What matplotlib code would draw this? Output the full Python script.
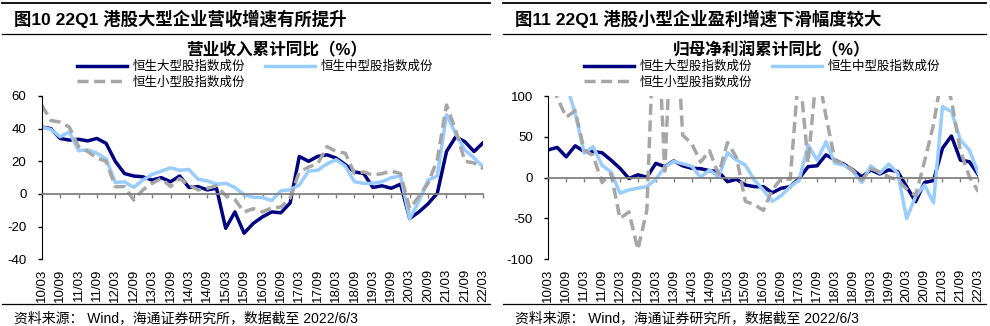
import matplotlib
matplotlib.use("Agg")
import matplotlib.pyplot as plt
from matplotlib.lines import Line2D

plt.rcParams['font.family'] = ['Liberation Sans', 'Noto Sans CJK SC']
plt.rcParams['axes.unicode_minus'] = False

# ---------------- data ----------------
quarters = [f"{y:02d}/{m:02d}" for y in range(10, 23) for m in (3, 6, 9, 12)][:49]
tick_labels = quarters[::2]

series_names = ["恒生大型股指数成份", "恒生中型股指数成份", "恒生小型股指数成份"]

# 营业收入累计同比 (%)
rev_large = [41, 40, 34, 33, 33.5, 32.5, 34, 31, 20, 12.5, 11, 10.5, 8.5, 10, 7.5, 11,
             4, 4.5, 2.5, 3.5, -21, -11, -24, -18, -14, -11, -11.5, -5.5, 23, 20, 23, 24,
             22, 18, 13.5, 12.5, 4, 5, 3.5, 6, -15, -11, -6, 0.5, 26, 35, 32, 26, 31.5]
rev_mid = [41, 39.5, 35, 38, 26.5, 27, 25, 21.5, 7, 7.5, 4, 8.5, 12, 14, 16, 14.5,
           15, 9, 8, 6, 6.5, 4, -0.5, -2, -2.2, -4, 2, 2.5, 5.5, 14, 14.5, 18.5,
           21, 17, 7.5, 6.5, 6.5, 7.5, 10, 11, -15, -4.5, 8.5, 11, 48.5, 37, 27, 22, 16.5]
rev_small = [54.5, 45, 44, 41, 29, 26, 22, 20, 4.5, 4.5, -3.7, 2.5, 6.5, 9.5, 4.5, 9.5,
             5.5, 2.5, 3.5, 5, -1, -3.5, -11, -9, -11, -8.5, -8, -2.5, 13.5, 16.5, 18.5, 29,
             26, 25, 12.5, 13.5, 11.5, 12.5, 14, 12.5, -9, -1.5, 6.5, 21, 54.5, 39, 20, 19, 15.5]

# 归母净利润累计同比 (%)
np_large = [34, 37, 25.5, 39, 32, 32, 30.5, 21.5, 11.5, -1, 3.5, 0.5, 17.5, 13.5, 20.5, 14.5,
            11.5, 11, 8.5, 7.5, -5, -2, -9, -11, -11, -18.5, -13, -11, -1, 13.5, 14.5, 28,
            21.5, 16.5, 9.5, 1, 9.5, 4.5, 9.5, 7.5, -11, -29.5, -6, -3.5, 36, 51, 21.5, 19.5, 3.5]
np_mid = [160, 140, 115, 79, 30, 38, 15, 7, -19, -15, -13, -11, -2, 13, 20, 17,
          14, 0.5, 9.5, 1, 30.5, 21.5, 15.5, -3, -15, -29, -22, -11, -3, 40, 21.5, 44,
          17.5, 15.5, 7.5, -6, 14.5, 5.5, 16.5, 5.5, -50, -23, -9, -31, 87, 81, 46, 34, 5.5]
np_small = [130, 98, 74, 82, 34, 27, -6, 5, -50, -42, -88, -40, 250, 8, 250, 52,
            42, 19, 33, 4, 43, 25, -29, -33, -40, -15, -1, -2, 135, 18, 135, 75,
            21, 17, 9, -3, 11, 7, 1, -3, -14, -22, 20, 65, 130, 95, 33, 1, -17]

# ---------------- layout ----------------
W, H = 990, 326
fig = plt.figure(figsize=(W / 100, H / 100), dpi=100)


def fx(px):
    return px / W


def fy(py):
    return 1 - py / H


def hline(x0, x1, y, lw):
    fig.add_artist(Line2D([fx(x0), fx(x1)], [fy(y), fy(y)], transform=fig.transFigure,
                          color="black", lw=lw))


colors = ["#000080", "#99CCFF", "#A6A6A6"]


def draw_panel(x0, x1, left, right, title, subtitle, sub_x, values, ylim, yticks):
    hline(x0, x1, 2.5, 1.3)
    hline(x0, x1, 34, 0.9)
    hline(x0, x1, 304, 0.9)
    fig.text(fx(x0 + 12), fy(19), title, fontsize=12.5, fontweight="bold",
             ha="left", va="center")
    fig.text(fx(sub_x), fy(50), subtitle, fontsize=12, fontweight="bold",
             ha="center", va="center")
    fig.text(fx(x0 + 12), fy(318), "资料来源： Wind，海通证券研究所，数据截至 2022/6/3",
             fontsize=10, ha="left", va="center")

    ax = fig.add_axes([fx(left), fy(259.3), fx(right) - fx(left), fy(96) - fy(259.3)])
    x = list(range(len(quarters)))
    lines = []
    for vals, c, name in zip(values, colors, series_names):
        if c == "#A6A6A6":
            ln, = ax.plot(x, vals, color=c, lw=2.5, ls=(0, (3.2, 1.6)),
                          dash_capstyle="butt", label=name)
        else:
            ln, = ax.plot(x, vals, color=c, lw=2.5, solid_joinstyle="round", label=name)
        lines.append(ln)

    ax.set_xlim(0, len(quarters) - 1)
    ax.set_ylim(*ylim)
    ax.set_yticks(yticks)
    ax.tick_params(axis="y", direction="out", length=3, width=1, labelsize=9.5, pad=8)

    for s in ["top", "right"]:
        ax.spines[s].set_visible(False)
    ax.spines["left"].set_color("black")
    ax.spines["bottom"].set_position(("data", 0))
    ax.spines["bottom"].set_color("#808080")
    ax.spines["bottom"].set_linewidth(1.3)
    ax.set_xticks(x[::2])
    ax.tick_params(axis="x", direction="out", length=3, width=1, color="#808080",
                   labelbottom=False)

    sec = ax.secondary_xaxis("bottom")
    sec.set_xticks(x[::2], tick_labels, rotation=90, fontsize=9.5)
    sec.tick_params(length=0, pad=7)
    sec.spines["bottom"].set_visible(False)

    order = [lines[0], lines[2], lines[1]]
    fig.legend(order, [l.get_label() for l in order], loc="upper left",
               bbox_to_anchor=(fx(left + 35.5), fy(61)), ncol=2, frameon=False,
               fontsize=9, handlelength=4, handletextpad=0.45, columnspacing=1.6,
               labelspacing=0.25, borderpad=0, borderaxespad=0)
    return ax


draw_panel(2, 490, 41.7, 483.3, "图10 22Q1 港股大型企业营收增速有所提升",
           "营业收入累计同比（%）", 277,
           [rev_large, rev_mid, rev_small], (-40, 60), [-40, -20, 0, 20, 40, 60])
draw_panel(503, 986, 548.3, 978.3, "图11 22Q1 港股小型企业盈利增速下滑幅度较大",
           "归母净利润累计同比（%）", 772,
           [np_large, np_mid, np_small], (-100, 100), [-100, -50, 0, 50, 100])

fig.savefig("out.png", dpi=100)
